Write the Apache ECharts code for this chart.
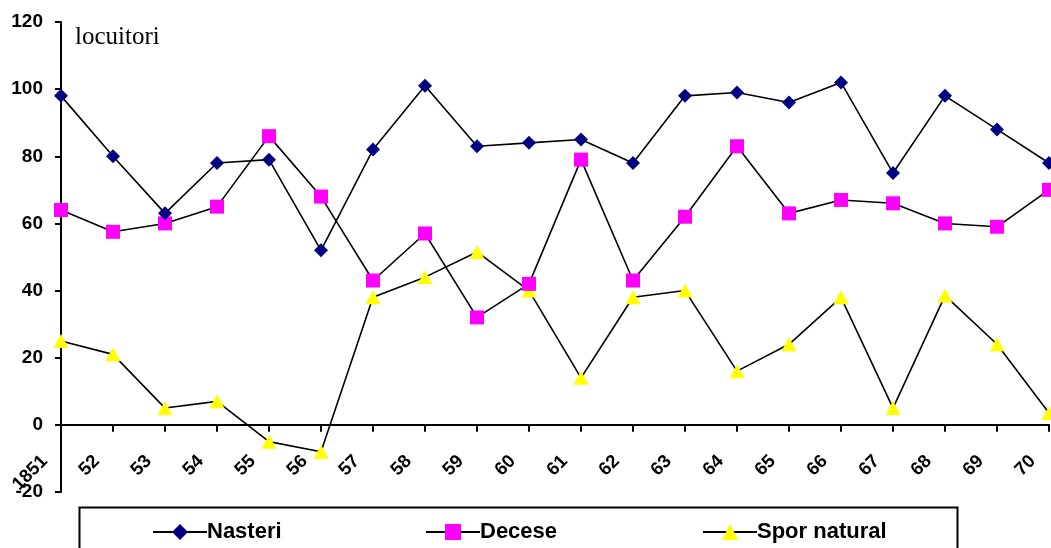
<!DOCTYPE html>
<html>
<head>
<meta charset="utf-8">
<script src="https://cdn.jsdelivr.net/npm/echarts@6/dist/echarts.min.js"></script>
<style>
html,body{margin:0;padding:0;background:#fff;}
#c{width:1051px;height:548px;}
</style>
</head>
<body>
<div id="c"></div>
<script>
const categories = ['1851','52','53','54','55','56','57','58','59','60','61','62','63','64','65','66','67','68','69','70'];
const nasteri = [98, 80, 63, 78, 79, 52, 82, 101, 83, 84, 85, 78, 98, 99, 96, 102, 75, 98, 88, 78];
const decese = [64, 57.5, 60, 65, 86, 68, 43, 57, 32, 42, 79, 43, 62, 83, 63, 67, 66, 60, 59, 70];
const spor = [25, 21, 5, 7, -5, -8, 38, 44, 51.5, 40, 14, 38, 40, 16, 24, 38, 5, 38.5, 24, 3.5];
const seriesNames = ['Nasteri', 'Decese', 'Spor natural'];
const yTicks = {min: -20, max: 120, interval: 20};
const unitLabel = 'locuitori';

const chart = echarts.init(document.getElementById('c'), null, {renderer: 'canvas'});
const boldFont = {fontFamily: 'Liberation Sans, Arial, sans-serif', fontWeight: 'bold', color: '#000'};
function legendAt(name, left) {
  return {
    data: [name], left: left, top: 516, itemWidth: 54, itemHeight: 20, itemGap: 0,
    textStyle: Object.assign({fontSize: 22, padding: [0, 0, 0, -5]}, boldFont)
  };
}
const option = {
  animation: false,
  backgroundColor: '#fff',
  grid: {left: 61, right: 2, top: 22, bottom: 56, containLabel: false, outerBoundsMode: 'none'},
  xAxis: {
    type: 'category', data: categories, boundaryGap: false,
    axisLine: {onZero: true, lineStyle: {color: '#000', width: 2}},
    axisTick: {show: true, alignWithLabel: true, length: 7, lineStyle: {color: '#000', width: 2}},
    axisLabel: Object.assign({interval: 0, rotate: 45, fontSize: 18.5, margin: -50, padding: [0, 23, 0, 0], hideOverlap: false}, boldFont),
    splitLine: {show: false}
  },
  yAxis: {
    type: 'value', min: yTicks.min, max: yTicks.max, interval: yTicks.interval,
    axisLine: {show: true, lineStyle: {color: '#000', width: 2}},
    axisTick: {show: true, length: 6, lineStyle: {color: '#000', width: 2}},
    axisLabel: Object.assign({fontSize: 19, margin: 18}, boldFont),
    splitLine: {show: false}
  },
  legend: [legendAt(seriesNames[0], 147), legendAt(seriesNames[1], 420), legendAt(seriesNames[2], 697)],
  graphic: [
    {type: 'rect', left: 77, top: 505, shape: {width: 878, height: 60},
     style: {fill: 'none', stroke: '#000', lineWidth: 2}, z: -1},
    {type: 'text', left: 75, top: 25,
     style: {text: unitLabel, font: '25px "Liberation Serif", "Times New Roman", serif', fill: '#000'}}
  ],
  series: [
    {name: seriesNames[0], type: 'line', data: nasteri, symbol: 'diamond', symbolSize: [14, 14],
     itemStyle: {color: '#000080'}, lineStyle: {color: '#000', width: 1.6}, z: 3},
    {name: seriesNames[1], type: 'line', data: decese, symbol: 'rect', symbolSize: 14,
     itemStyle: {color: '#FF00FF'}, lineStyle: {color: '#000', width: 1.6}, z: 2},
    {name: seriesNames[2], type: 'line', data: spor, symbol: 'triangle', symbolSize: [15, 14],
     itemStyle: {color: '#FFFF00'}, lineStyle: {color: '#000', width: 1.6}, z: 1}
  ]
};
chart.setOption(option);
</script>
</body>
</html>
